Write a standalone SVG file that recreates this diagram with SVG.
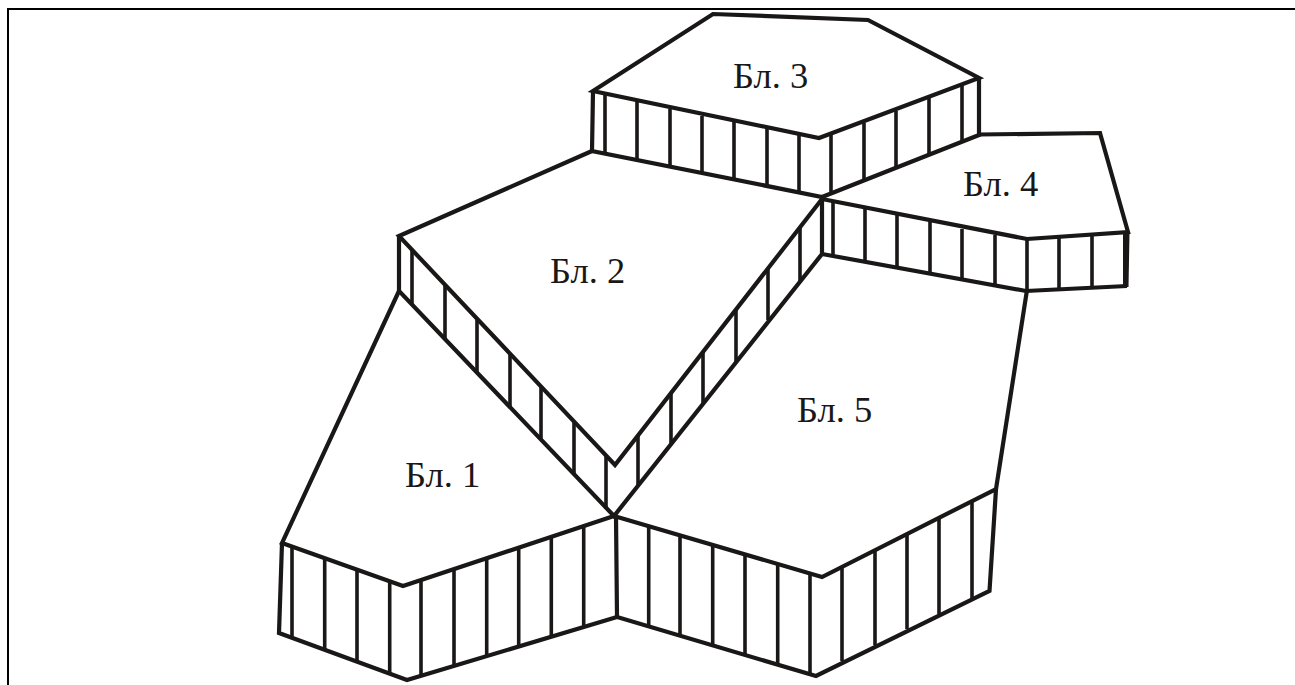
<svg xmlns="http://www.w3.org/2000/svg" width="1295" height="685" viewBox="0 0 1295 685">
<style>
.o{fill:none;stroke:#1a1717;stroke-width:4.2;stroke-linejoin:miter}
.v{fill:none;stroke:#1a1717;stroke-width:3.6}
.t{font-family:"Liberation Serif","Times New Roman",serif;font-size:36.5px;fill:#1a1717}
.f{fill:none;stroke:#000;stroke-width:2}
</style>
<rect width="1295" height="685" fill="#fff"/>
<path class="f" d="M8 685V9H1295"/>
<g id="block-3">
<path class="o" d="M593 91L713 14L868 20L979 78L819 138Z"/>
<path class="o" d="M593 91L592 151L822 197L979 135V78"/>
<path class="v" d="M605 94V153M637 101V161M670 109V167M702 116V173M734 122V179M767 129V185M799 135V192M831 135V192M864 123V181M896 111V167M929 98V154M962 85V141"/>
<text class="t" x="733" y="88">Бл. 3</text>
</g>
<g id="block-4">
<path class="o" d="M979 134.500L1100 133L1128 232L1027 239L822 199"/>
<path class="o" d="M822 254L1026 291L1127 286"/>
<path class="v" d="M833 202V256M865 208V261M897 215V267M930 221V273M962 229V280M995 235V285M1027 239V291M1059 238V289M1092 235V287"/>
<path d="M1123 233H1129.500L1128.500 287H1123Z" fill="#1a1717"/>
<text class="t" x="963" y="196">Бл. 4</text>
</g>
<g id="block-2">
<path class="o" d="M592 151L399 236L615 465L822 199"/>
<path class="o" d="M399 236V291L614 516L822 254V199"/>
<path class="v" d="M412 250V304M445 285V339M477 319V373M510 354V408M541 387V440M574 422V475M606 455V509M638 435V486M671 393V444M703 352V404M736 309V362M768 268V320M800 227V281"/>
<text class="t" x="550" y="283">Бл. 2</text>
</g>
<g id="block-1">
<path class="o" d="M399 291L282 543L403 586L614 516"/>
<path class="o" d="M282 543L279 633L407 680L617 617"/>
<path class="v" d="M292 547V638M324.700 558V650M357 570V662M389.700 581V674M421 580V676M454 570V666M486.700 559V656M518.700 549V647M551.300 538V637M583.700 527V627"/>
<text class="t" x="405" y="487">Бл. 1</text>
</g>
<g id="block-5">
<path class="o" d="M614 516L822 577L996 489L1027 290"/>
<path class="o" d="M996 489L989.500 591L816 676L617 617L616 516"/>
<path class="v" d="M648.700 526V626M680 535V635M712.700 545V645M745 554V654M777.700 564V664M810 575V674M842 568V661M875 551V645M907 535V629M939 518V614M972 502V598"/>
<text class="t" x="797" y="422">Бл. 5</text>
</g>
</svg>
